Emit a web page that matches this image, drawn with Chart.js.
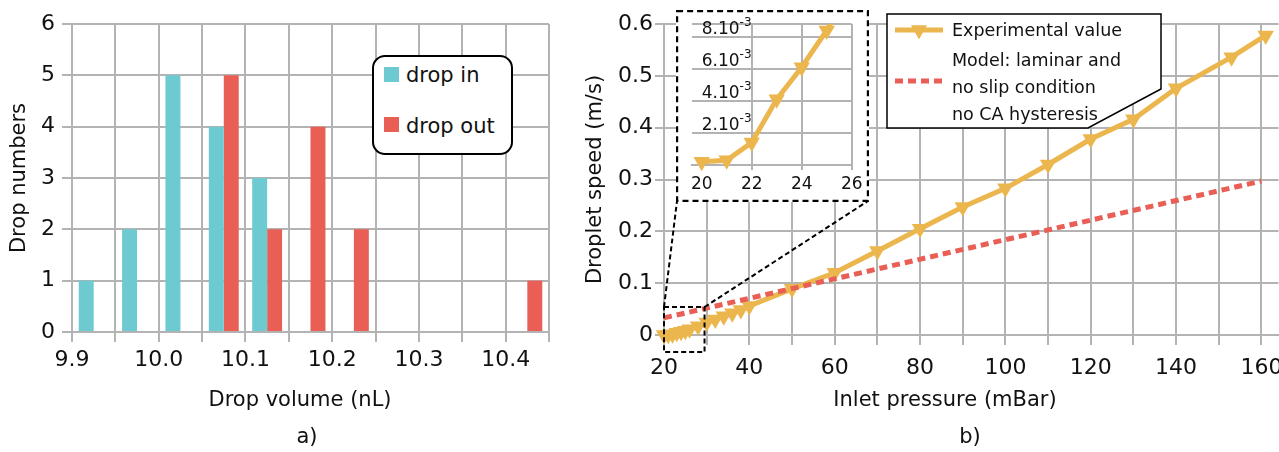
<!DOCTYPE html>
<html>
<head>
<meta charset="utf-8">
<script src="https://cdn.jsdelivr.net/npm/chart.js@4.4.0/dist/chart.umd.min.js"></script>
<style>
html,body{margin:0;padding:0;background:#fff;width:1279px;height:452px;overflow:hidden;font-family:"DejaVu Sans",sans-serif;color:#111;}
.box{position:absolute;}
.txt{position:absolute;font-size:21px;line-height:24px;white-space:nowrap;transform:translateX(-50%);}
#legA{position:absolute;left:372px;top:55px;width:137px;height:96px;border:2px solid #000;border-radius:13px;background:#fff;}
#legA .sw{position:absolute;left:10px;width:15px;height:15px;}
#legA .lb{position:absolute;left:32px;font-size:21px;line-height:24px;}
</style>
</head>
<body>
<div class="box" style="left:0;top:0;width:560px;height:452px"><canvas id="chartA" width="560" height="452"></canvas></div>
<div class="box" style="left:575px;top:0;width:713px;height:452px"><canvas id="chartB" width="713" height="452"></canvas></div>
<div class="box" style="left:676px;top:10px;width:193px;height:192px"><canvas id="chartC" width="193" height="192"></canvas></div>

<div id="legA">
  <div class="sw" style="top:10px;background:#6ccad0"></div><div class="lb" style="top:6px">drop in</div>
  <div class="sw" style="top:60px;background:#e95f56"></div><div class="lb" style="top:57px">drop out</div>
</div>

<div class="txt" style="left:300px;top:387px">Drop volume (nL)</div>
<div class="txt" style="left:307px;top:424px">a)</div>
<div class="txt" style="left:945px;top:387px">Inlet pressure (mBar)</div>
<div class="txt" style="left:970px;top:424px">b)</div>

<script>
// a) histogram of drop volumes
const bins = [9.925, 9.975, 10.025, 10.075, 10.125, 10.175, 10.225, 10.275, 10.325, 10.375, 10.425];
const dropIn = [1, 2, 5, 4, 3, 0, 0, 0, 0, 0, 0];
const dropOut = [0, 0, 0, 5, 2, 4, 2, 0, 0, 0, 1];

// b) droplet speed vs inlet pressure
const pressure = [20, 21, 22, 23, 24, 25, 26, 28, 30, 32, 34, 36, 38, 40, 50, 60, 70, 80, 90, 100, 110, 120, 130, 140, 153, 161];
const speed = [0.0002, 0.0003, 0.0014, 0.0041, 0.0061, 0.0084, 0.011, 0.017, 0.024, 0.030, 0.036, 0.042, 0.048, 0.056,
  0.089, 0.120, 0.162, 0.205, 0.247, 0.283, 0.329, 0.378, 0.416, 0.476, 0.536, 0.578];
const modelP = [20, 160];
const modelV = [0.033, 0.297];
const pressureTicks = [20, 30, 40, 50, 60, 70, 80, 90, 100, 110, 120, 130, 140, 150, 160];

// inset
const insetXTicks = [20, 22, 24, 26];
const insetYTicks = [0.002, 0.004, 0.006, 0.008];
const insetYLabels = ['2.10', '4.10', '6.10', '8.10'];

// zoomed region shown in the inset (data units)
const zoomBox = {x0: 20, x1: 29.5, y0: -0.033, y1: 0.054};

const cyan = '#6ccad0', red = '#e95f56', orange = '#ecb64e', grid = '#b3b3b3';
Chart.defaults.font.family = '"DejaVu Sans", sans-serif';
Chart.defaults.color = '#111';
Chart.defaults.animation = false;

const pts = (xs, ys) => xs.map((x, i) => ({x: x, y: ys[i] === 0 ? null : ys[i]}));

new Chart(document.getElementById('chartA'), {
  type: 'bar',
  data: {
    datasets: [
      {label: 'drop in', data: pts(bins, dropIn), backgroundColor: cyan, borderWidth: 0},
      {label: 'drop out', data: pts(bins, dropOut), backgroundColor: red, borderWidth: 0}
    ]
  },
  options: {
    responsive: false,
    layout: {padding: {top: 24, right: 11, left: 0, bottom: 0}},
    categoryPercentage: 0.69,
    barPercentage: 1,
    plugins: {legend: {display: false}, tooltip: {enabled: false}},
    scales: {
      x: {
        type: 'linear', min: 9.9, max: 10.45, offset: false,
        grid: {color: grid, lineWidth: 2, tickLength: 10, offset: false},
        border: {color: grid, width: 2},
        ticks: {stepSize: 0.05, autoSkip: false, maxRotation: 0, padding: 5, font: {size: 22},
          callback: v => Math.round(v * 100) % 10 === 0 ? v.toFixed(1) : ''},
        afterFit: s => { s.height = 120; }
      },
      y: {
        min: 0, max: 6,
        grid: {color: grid, lineWidth: 2, tickLength: 10},
        border: {color: grid, width: 2},
        ticks: {stepSize: 1, padding: 7, font: {size: 22}},
        title: {display: true, text: 'Drop numbers', font: {size: 21}, padding: {top: 7}},
        afterFit: s => { s.width = 72; }
      }
    }
  }
});

const overlayB = {
  id: 'overlayB',
  afterDatasetsDraw(chart) {
    const {ctx, scales: {x, y}} = chart;
    const bx0 = x.getPixelForValue(zoomBox.x0), bx1 = x.getPixelForValue(zoomBox.x1);
    const by0 = y.getPixelForValue(zoomBox.y0), by1 = y.getPixelForValue(zoomBox.y1);
    ctx.save();
    ctx.strokeStyle = '#000';
    ctx.lineWidth = 2;
    ctx.setLineDash([5, 3]);
    ctx.strokeRect(bx0, by1, bx1 - bx0, by0 - by1);
    // lines up to the inset frame (inset sits at page x 676..869, bottom y 201)
    ctx.beginPath();
    ctx.moveTo(bx0, by1); ctx.lineTo(676 - 575 + 1, 201);
    ctx.moveTo(bx1, by1); ctx.lineTo(869 - 575 - 1, 201);
    ctx.stroke();
    ctx.restore();
  },
  afterDraw(chart) {
    const ctx = chart.ctx;
    ctx.save();
    ctx.beginPath();
    ctx.moveTo(312, 14); ctx.lineTo(586, 14); ctx.lineTo(586, 89); ctx.lineTo(513, 128); ctx.lineTo(312, 128);
    ctx.closePath();
    ctx.fillStyle = '#fff'; ctx.fill();
    ctx.strokeStyle = '#000'; ctx.lineWidth = 1.5; ctx.stroke();

    ctx.lineWidth = 5;
    ctx.strokeStyle = orange;
    ctx.beginPath(); ctx.moveTo(320, 30); ctx.lineTo(368, 30); ctx.stroke();
    ctx.fillStyle = orange;
    Chart.helpers.drawPoint(ctx, {pointStyle: 'triangle', rotation: 180, radius: 9, borderWidth: 0}, 344, 30);
    ctx.fill();

    ctx.strokeStyle = red;
    ctx.setLineDash([8, 5]);
    ctx.beginPath(); ctx.moveTo(320, 81); ctx.lineTo(370, 81); ctx.stroke();
    ctx.setLineDash([]);

    ctx.fillStyle = '#111';
    ctx.font = '17.5px "DejaVu Sans"';
    ctx.textBaseline = 'middle';
    ctx.fillText('Experimental value', 377, 31);
    ctx.fillText('Model: laminar and', 377, 61);
    ctx.fillText('no slip condition', 377, 88);
    ctx.fillText('no CA hysteresis', 377, 115);
    ctx.restore();
  }
};

new Chart(document.getElementById('chartB'), {
  type: 'line',
  data: {
    datasets: [
      {label: 'Experimental value', data: pressure.map((p, i) => ({x: p, y: speed[i]})),
        borderColor: orange, backgroundColor: orange, borderWidth: 5,
        pointStyle: 'triangle', rotation: 180, pointRadius: 9.5, pointBorderWidth: 0, clip: false, order: 1},
      {label: 'Model', data: modelP.map((p, i) => ({x: p, y: modelV[i]})),
        borderColor: red, borderWidth: 5, borderDash: [8, 5], pointRadius: 0, clip: false, order: 0}
    ]
  },
  options: {
    responsive: false,
    layout: {padding: {top: 24, right: 0, left: 0, bottom: 0}},
    plugins: {legend: {display: false}, tooltip: {enabled: false}},
    scales: {
      x: {
        type: 'linear', min: 20, max: 164,
        afterBuildTicks: s => { s.ticks = pressureTicks.map(v => ({value: v})); },
        grid: {color: grid, lineWidth: 2, tickLength: 10},
        border: {color: grid, width: 2},
        ticks: {autoSkip: false, maxRotation: 0, padding: 10, font: {size: 22},
          callback: v => v % 20 === 0 ? String(v) : ''},
        afterFit: s => { s.height = 117; s.paddingRight = 0; s.paddingLeft = 0; }
      },
      y: {
        min: 0, max: 0.6,
        grid: {color: grid, lineWidth: 2, tickLength: 9},
        border: {color: grid, width: 2},
        ticks: {stepSize: 0.1, padding: 2, font: {size: 22},
          callback: v => v === 0 ? '0' : v.toFixed(1)},
        title: {display: true, text: 'Droplet speed (m/s)', font: {size: 21}, padding: {top: 8}},
        afterFit: s => { s.width = 89; }
      }
    }
  },
  plugins: [overlayB]
});

const overlayC = {
  id: 'overlayC',
  beforeDraw(chart) {
    const ctx = chart.ctx;
    ctx.save();
    ctx.fillStyle = '#fff';
    ctx.fillRect(0, 0, chart.width, chart.height);
    ctx.restore();
  },
  afterDraw(chart) {
    const {ctx, scales: {y}, chartArea} = chart;
    ctx.save();
    ctx.fillStyle = '#111';
    ctx.textBaseline = 'alphabetic';
    insetYTicks.forEach((v, i) => {
      const py = y.getPixelForValue(v) - 3;
      ctx.font = '17px "DejaVu Sans"';
      ctx.fillText(insetYLabels[i], chartArea.left + 10, py);
      const w = ctx.measureText(insetYLabels[i]).width;
      ctx.font = '12px "DejaVu Sans"';
      ctx.fillText('-3', chartArea.left + 10 + w, py - 8);
    });
    ctx.strokeStyle = '#000';
    ctx.lineWidth = 2.2;
    ctx.setLineDash([6, 4]);
    ctx.strokeRect(1.1, 1.1, chart.width - 2.2, chart.height - 2.2);
    ctx.restore();
  }
};

new Chart(document.getElementById('chartC'), {
  type: 'line',
  data: {
    datasets: [
      {data: pressure.map((p, i) => ({x: p, y: speed[i]})),
        borderColor: orange, backgroundColor: orange, borderWidth: 5,
        pointStyle: 'triangle', rotation: 180, pointRadius: 9.5, pointBorderWidth: 0,
        clip: {left: 15, top: 0, right: 0, bottom: 15}}
    ]
  },
  options: {
    responsive: false,
    layout: {padding: {top: 14, right: 17.3, left: 15.7, bottom: 0}},
    plugins: {legend: {display: false}, tooltip: {enabled: false}},
    scales: {
      x: {
        type: 'linear', min: 19.6, max: 26,
        afterBuildTicks: s => { s.ticks = insetXTicks.map(v => ({value: v})); },
        grid: {color: c => c.tick && c.tick.value === 20 ? 'rgba(0,0,0,0)' : grid, lineWidth: 2, tickLength: 5},
        border: {color: grid, width: 2},
        ticks: {autoSkip: false, maxRotation: 0, padding: 4, font: {size: 17}},
        afterFit: s => { s.height = 37; }
      },
      y: {
        min: 0, max: 0.0088,
        afterBuildTicks: s => { s.ticks = [0].concat(insetYTicks, [0.0088]).map(v => ({value: v})); },
        grid: {color: grid, lineWidth: 2, drawTicks: false},
        border: {display: false},
        ticks: {display: false},
        afterFit: s => { s.width = 0; }
      }
    }
  },
  plugins: [overlayC]
});
</script>
</body>
</html>
